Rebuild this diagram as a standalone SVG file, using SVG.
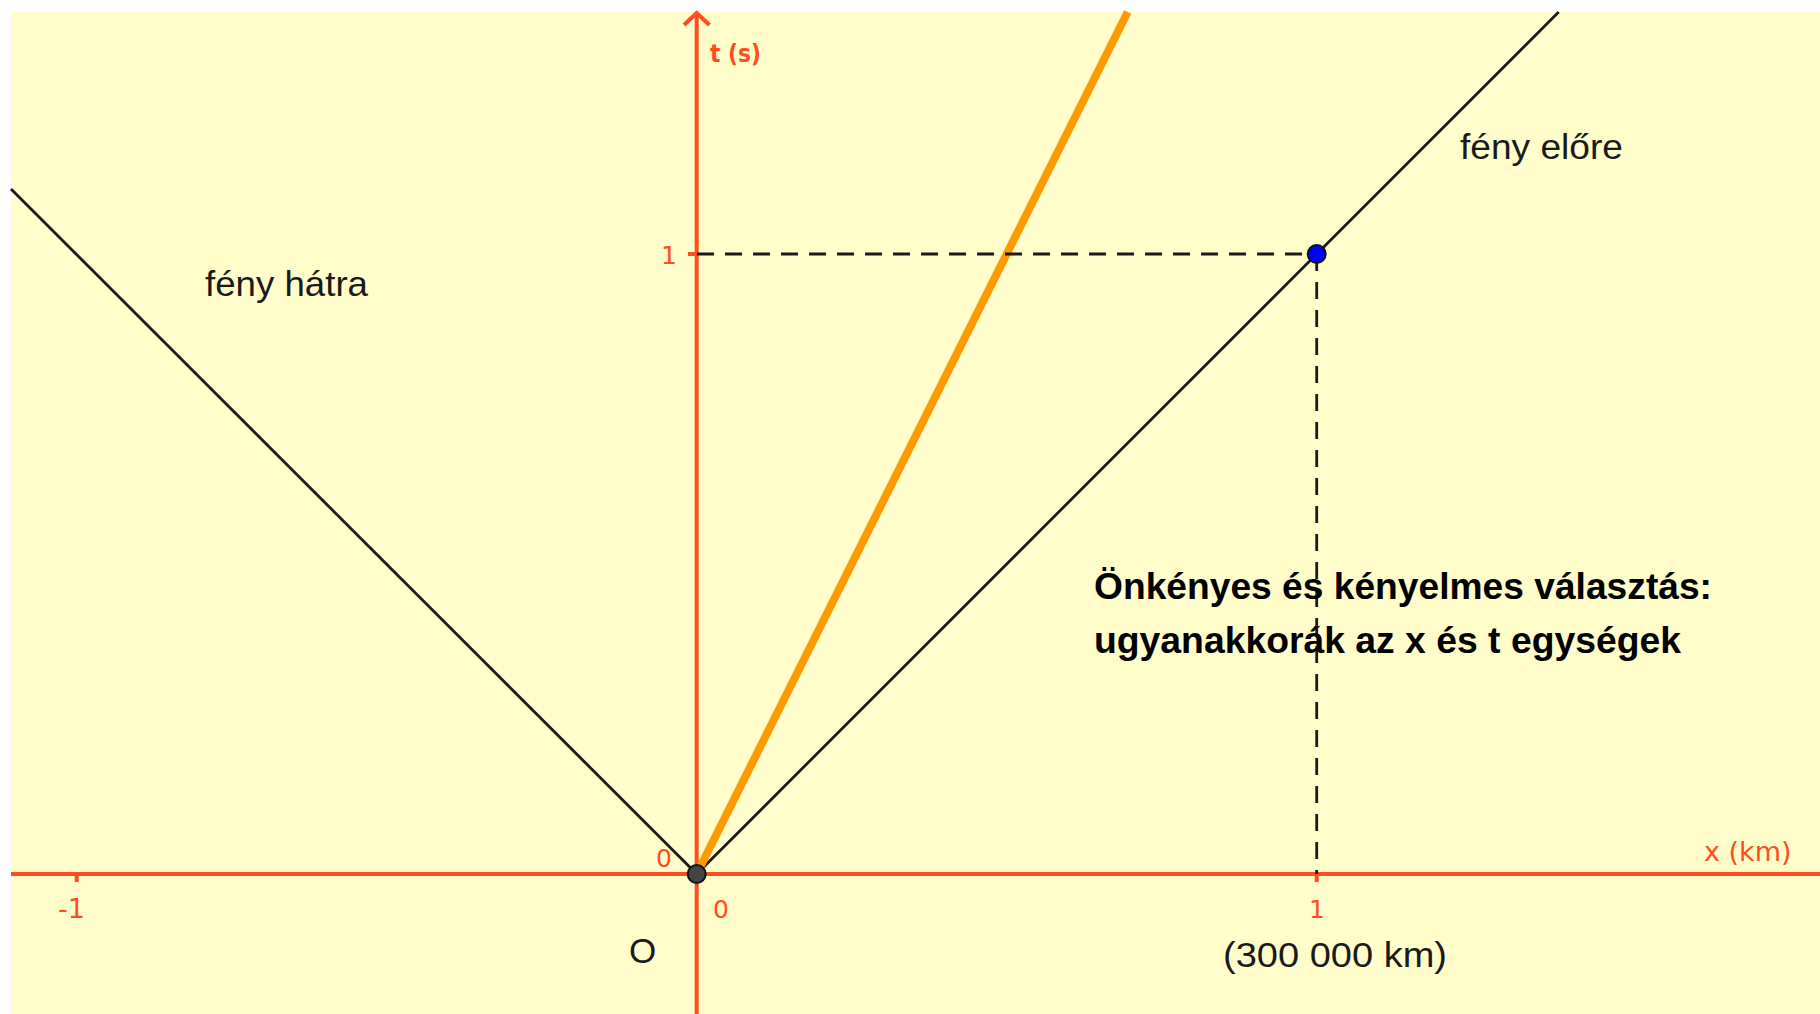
<svg xmlns="http://www.w3.org/2000/svg" width="1820" height="1014" viewBox="0 0 1820 1014">
<style>
.axis{stroke:#ff4d1f;stroke-width:4;fill:none}
.tick{stroke:#ff4d1f;stroke-width:4}
.alabel{font-family:"DejaVu Sans",sans-serif;font-size:25px;fill:#ff4d1f}
.light{stroke:#1a1a1a;stroke-width:2.8;fill:none}
.dash{stroke:#1a1a1a;stroke-width:2.8;stroke-dasharray:17 11;fill:none}
.lbl{font-family:"Liberation Sans",Arial,sans-serif;font-size:35px;fill:#1a1a1a}
.note{font-family:"Liberation Sans",Arial,sans-serif;font-size:37px;font-weight:bold;fill:#000}
</style>
<rect x="0" y="0" width="1820" height="1014" fill="#ffffff"/>
<rect x="11" y="12" width="1809" height="1002" fill="#fffdca"/>
<g id="axes">
<line class="axis" x1="11" y1="874" x2="1820" y2="874"/>
<line class="axis" x1="696.7" y1="13" x2="696.7" y2="1014"/>
<polyline class="axis" points="684,25 696.7,13 709.4,25"/>
<line class="tick" x1="1316.7" y1="874" x2="1316.7" y2="882"/>
<line class="tick" x1="76.7" y1="874" x2="76.7" y2="882"/>
<line class="tick" x1="688" y1="254" x2="696.7" y2="254"/>
<text class="alabel" x="710" y="62" font-weight="bold" textLength="51" lengthAdjust="spacingAndGlyphs">t (s)</text>
<text class="alabel" x="1704" y="861" style="font-size:27px">x (km)</text>
<text class="alabel" x="661" y="264">1</text>
<text class="alabel" x="656" y="867">0</text>
<text class="alabel" x="713" y="918">0</text>
<text class="alabel" x="1309" y="918">1</text>
<text class="alabel" x="58" y="918" style="font-size:27px">-1</text>
</g>
<g id="connectors">
<line class="light" x1="11" y1="189" x2="696.7" y2="874"/>
<line class="light" x1="696.7" y1="874" x2="1558.7" y2="12"/>
<line x1="696.7" y1="874" x2="1127.7" y2="12" stroke="#ff9a00" stroke-width="8"/>
<line class="dash" x1="697" y1="254" x2="1316.7" y2="254"/>
<line class="dash" x1="1316.7" y1="254" x2="1316.7" y2="874"/>
</g>
<g id="labels">
<text class="lbl" x="205" y="296" textLength="163" lengthAdjust="spacingAndGlyphs">fény hátra</text>
<text class="lbl" x="1460" y="159" textLength="163" lengthAdjust="spacingAndGlyphs">fény előre</text>
<text class="lbl" x="1223" y="967" textLength="224" lengthAdjust="spacingAndGlyphs">(300 000 km)</text>
<text class="lbl" x="629" y="963" fill="#666">O</text>
</g>
<g id="note">
<text class="note" x="1094" y="599" textLength="618" lengthAdjust="spacingAndGlyphs">Önkényes és kényelmes választás:</text>
<text class="note" x="1094" y="653" textLength="587" lengthAdjust="spacingAndGlyphs">ugyanakkorák az x és t egységek</text>
</g>
<g id="point-A">
<circle cx="1316.7" cy="254" r="9" fill="#0000ff" stroke="#111" stroke-width="2"/>
</g>
<g id="point-O">
<circle cx="696.7" cy="874" r="9" fill="#444" stroke="#111" stroke-width="2"/>
</g>
</svg>
